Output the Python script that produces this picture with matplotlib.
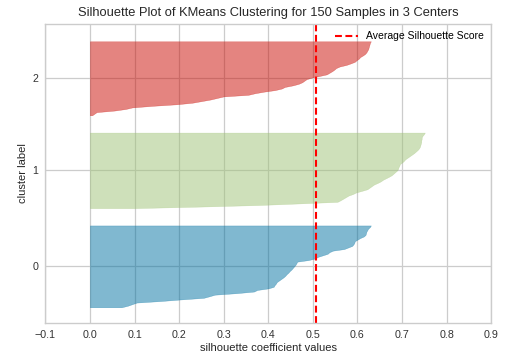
import numpy as np
import matplotlib.pyplot as plt

# cores (paleta padrao do yellowbrick, alpha 0.5 por cima)
cores = ['#0272a2', '#9fc377', '#ca0b03']

# valores de silhueta, ja ordenados dentro de cada cluster
cluster_0 = [0.071, 0.085, 0.095, 0.105, 0.160, 0.205, 0.255, 0.268, 0.280, 0.330,
             0.368, 0.375, 0.400, 0.412, 0.414, 0.417, 0.419, 0.424, 0.429, 0.434,
             0.438, 0.441, 0.445, 0.448, 0.452, 0.455, 0.458, 0.461, 0.463, 0.465,
             0.490, 0.505, 0.511, 0.522, 0.533, 0.537, 0.545, 0.570, 0.579, 0.588,
             0.591, 0.593, 0.594, 0.600, 0.606, 0.614, 0.618, 0.619, 0.620, 0.622,
             0.624, 0.628, 0.630]
cluster_1 = [0.100, 0.250, 0.380, 0.470, 0.555, 0.562, 0.568, 0.574, 0.580, 0.590,
             0.597, 0.610, 0.622, 0.627, 0.632, 0.637, 0.645, 0.652, 0.657, 0.664,
             0.671, 0.677, 0.681, 0.685, 0.689, 0.691, 0.692, 0.694, 0.695, 0.700,
             0.704, 0.707, 0.712, 0.717, 0.722, 0.727, 0.731, 0.735, 0.738, 0.740,
             0.741, 0.742, 0.743, 0.743, 0.744, 0.744, 0.746, 0.749, 0.751]
cluster_2 = [0.005, 0.010, 0.015, 0.055, 0.080, 0.095, 0.140, 0.195, 0.230, 0.250,
             0.270, 0.285, 0.300, 0.355, 0.370, 0.390, 0.415, 0.430, 0.437, 0.455,
             0.468, 0.476, 0.481, 0.486, 0.498, 0.515, 0.531, 0.537, 0.543, 0.548,
             0.552, 0.560, 0.575, 0.585, 0.594, 0.598, 0.603, 0.606, 0.612, 0.617,
             0.620, 0.622, 0.624, 0.625, 0.626, 0.627, 0.628, 0.630]
clusters = [cluster_0, cluster_1, cluster_2]
rotulos = ['0', '1', '2']
media_silhueta = 0.508

######
plt.rc('font', family=['Liberation Sans', 'DejaVu Sans'])
plt.rc('axes', edgecolor='#cccccc', facecolor='white', axisbelow=True)
######
fig = plt.figure(figsize=(5.12, 3.62), dpi=100)
ax = fig.add_axes([0.0885, 0.1077, 0.871, 0.826])

n_total = sum(len(c) for c in clusters)
y_lower = 10
pos_ticks = []
for idx, valores in enumerate(clusters):
    valores = np.sort(valores)
    size = len(valores)
    y_upper = y_lower + size
    ax.fill_betweenx(np.arange(y_lower, y_upper), 0, valores,
                     facecolor=cores[idx], edgecolor=cores[idx], alpha=0.5, linewidth=0.3)
    pos_ticks.append(y_lower + 0.5 * size)
    y_lower = y_upper + 10

ax.axvline(x=media_silhueta, color='red', linestyle=(0, (3.3, 1.7)), linewidth=1.5,
           label='Average Silhouette Score')

ax.set_title('Silhouette Plot of KMeans Clustering for 150 Samples in 3 Centers',
             fontsize=9.3, color='#262626', pad=6)
ax.set_xlim([-0.1, 0.9])
ax.set_ylim([0, n_total + (len(clusters) + 1) * 10])
ax.set_xticks(np.arange(-0.1, 0.91, 0.1))
ax.set_xticklabels(['\u22120.1', '0.0', '0.1', '0.2', '0.3', '0.4', '0.5', '0.6', '0.7', '0.8', '0.9'])
ax.set_yticks(pos_ticks)
ax.set_yticklabels(rotulos)
ax.set_xlabel('silhouette coefficient values', fontsize=8, color='#262626', labelpad=2)
ax.set_ylabel('cluster label', fontsize=8, color='#262626', labelpad=3)
ax.tick_params(length=0, labelsize=7.7, labelcolor='#333333', pad=5)
ax.grid(True, color='#cccccc', linewidth=0.9)
for s in ax.spines.values():
    s.set_linewidth(1.0)

ax.legend(loc='upper right', frameon=False, fontsize=7.5, handlelength=2.2,
          borderaxespad=0.3)

plt.savefig('out.png', dpi=100)
plt.close()
